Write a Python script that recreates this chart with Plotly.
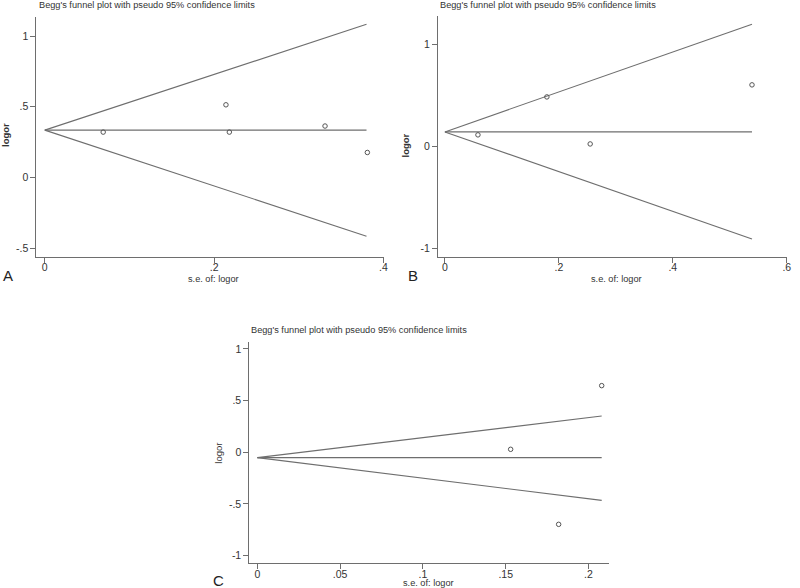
import plotly.graph_objects as go

W, H = 800, 588

# ---- data ----
se_A = [0.069, 0.214, 0.218, 0.331, 0.381]
logor_A = [0.321, 0.514, 0.321, 0.364, 0.177]
pooled_A, seend_A, upper_A, lower_A = 0.335, 0.380, 1.083, -0.415

se_B = [0.058, 0.179, 0.255, 0.539]
logor_B = [0.112, 0.484, 0.023, 0.602]
pooled_B, seend_B, upper_B, lower_B = 0.141, 0.539, 1.196, -0.908

se_C = [0.153, 0.182, 0.208]
logor_C = [0.029, -0.697, 0.645]
pooled_C, seend_C, upper_C, lower_C = -0.052, 0.208, 0.351, -0.465

xticks_A = [0, 0.2, 0.4]; xtext_A = ["0", ".2", ".4"]
yticks_A = [-0.5, 0, 0.5, 1]; ytext_A = ["-.5", "0", ".5", "1"]
xticks_B = [0, 0.2, 0.4, 0.6]; xtext_B = ["0", ".2", ".4", ".6"]
yticks_B = [-1, 0, 1]; ytext_B = ["-1", "0", "1"]
xticks_C = [0, 0.05, 0.1, 0.15, 0.2]; xtext_C = ["0", ".05", ".1", ".15", ".2"]
yticks_C = [-1, -0.5, 0, 0.5, 1]; ytext_C = ["-1", "-.5", "0", ".5", "1"]

title_text = "Begg's funnel plot with pseudo 95% confidence limits"

LINE = "#6e6e6e"
TXT = "#333333"
FONT = "Liberation Sans, Arial, sans-serif"

def px(x):
    return x / W

def py(y):
    return 1 - y / H

fig = go.Figure()

panels = [
    dict(se=se_A, lo=logor_A, pooled=pooled_A, seend=seend_A, up=upper_A, low=lower_A,
         xs="x", ys="y"),
    dict(se=se_B, lo=logor_B, pooled=pooled_B, seend=seend_B, up=upper_B, low=lower_B,
         xs="x2", ys="y2"),
    dict(se=se_C, lo=logor_C, pooled=pooled_C, seend=seend_C, up=upper_C, low=lower_C,
         xs="x3", ys="y3"),
]

for p in panels:
    for yend in (p["up"], p["pooled"], p["low"]):
        fig.add_trace(go.Scatter(x=[0, p["seend"]], y=[p["pooled"], yend], mode="lines",
                                 line=dict(color=LINE, width=1.1), xaxis=p["xs"], yaxis=p["ys"],
                                 showlegend=False, hoverinfo="skip"))
    fig.add_trace(go.Scatter(x=p["se"], y=p["lo"], mode="markers",
                             marker=dict(symbol="circle-open", size=4.5, color="#555555",
                                         line=dict(width=1)),
                             xaxis=p["xs"], yaxis=p["ys"], showlegend=False))

def ax(domain, rng, tv, tt, anchor, standoff=0):
    return dict(domain=domain, range=rng, tickvals=tv, ticktext=tt, anchor=anchor,
                showline=True, linecolor=LINE, linewidth=1.2, showgrid=False, zeroline=False,
                ticks="outside", ticklen=5, tickcolor=LINE, tickwidth=1,
                ticklabelstandoff=standoff,
                tickfont=dict(size=10.5, color=TXT, family=FONT), fixedrange=True)

fig.update_layout(
    width=W, height=H, margin=dict(l=0, r=0, t=0, b=0),
    paper_bgcolor="white", plot_bgcolor="white",
    xaxis=ax([px(36.7), px(386.7)], [-0.0098, 0.401], xticks_A, xtext_A, "y", -4),
    yaxis=ax([py(256.7), py(16.7)], [-0.56, 1.137], yticks_A, ytext_A, "x"),
    xaxis2=ax([px(440.7), px(791.7)], [-0.0122, 0.6], xticks_B, xtext_B, "y2", -4),
    yaxis2=ax([py(256.7), py(16)], [-1.082, 1.277], yticks_B, ytext_B, "x2"),
    xaxis3=ax([px(251), px(613.3)], [-0.0048, 0.2127], xticks_C, xtext_C, "y3", -4),
    yaxis3=ax([py(563.3), py(341.7)], [-1.074, 1.07], yticks_C, ytext_C, "x3"),
)

def note(text, x, y, size=10, xanchor="center", angle=0, bold=False, color=TXT):
    if bold:
        text = "<b>" + text + "</b>"
    fig.add_annotation(text=text, x=px(x), y=py(y), xref="paper", yref="paper",
                       xanchor=xanchor, yanchor="middle", showarrow=False, textangle=angle,
                       font=dict(size=size, color=color, family=FONT))

# titles
note(title_text, 37, 5, size=9.2, xanchor="left")
note(title_text, 440.7, 5, size=9.2, xanchor="left")
note(title_text, 250.7, 330, size=9.2, xanchor="left")

# x axis titles
note("s.e. of: logor", 215, 278.5, size=9.2)
note("s.e. of: logor", 620, 278.5, size=9.2)
note("s.e. of: logor", 431, 582.5, size=9.2)

# y axis titles
note("logor", 5, 135, size=9.5, angle=-90, bold=True)
note("logor", 408, 145, size=9.5, angle=-90, bold=True)
note("logor", 219, 453, size=9.5, angle=-90)

# panel letters
note("A", 8, 275, size=15, color="#222222")
note("B", 416, 275, size=15, color="#222222")
note("C", 220, 580, size=15, color="#222222")

fig.write_html("out.html", config={"displayModeBar": False},
               post_script="document.body.style.margin='0';")
